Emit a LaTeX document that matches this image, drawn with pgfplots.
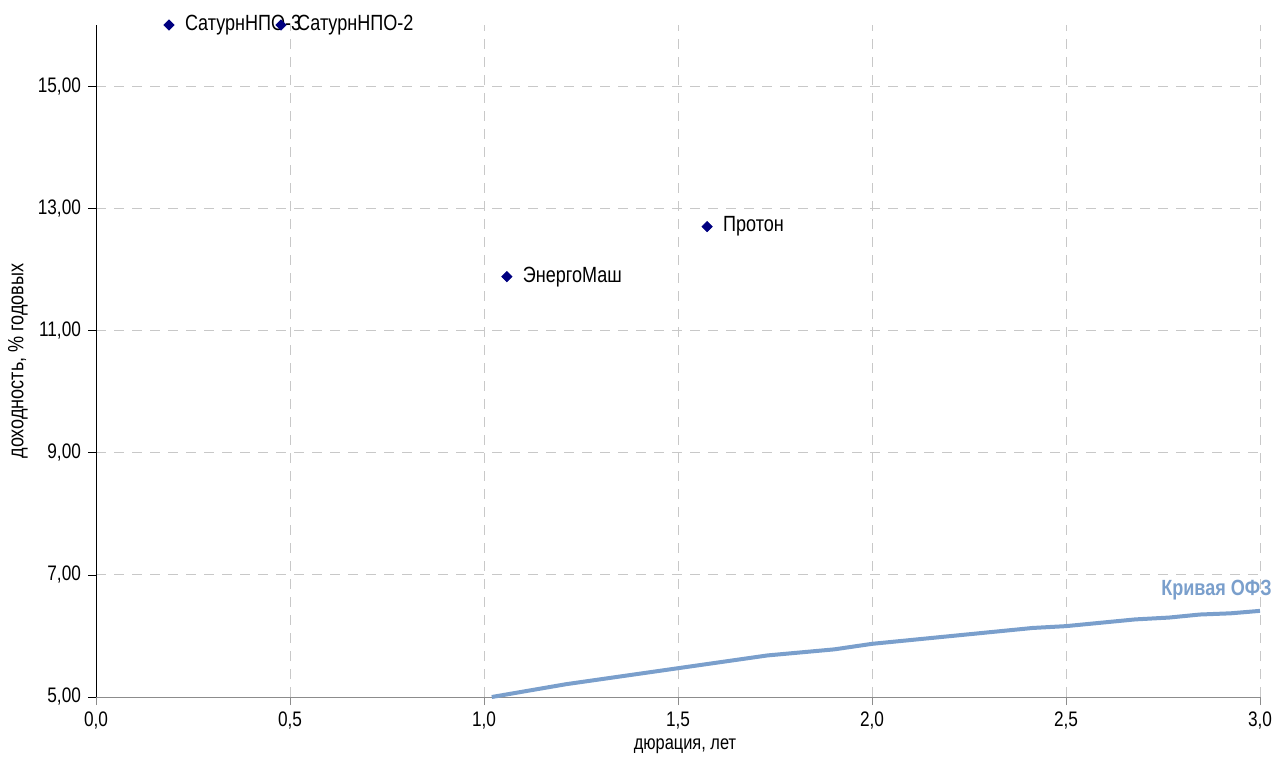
\documentclass[border=0pt]{standalone}
\usepackage{fontspec}
\setmainfont[FakeStretch=0.82]{Liberation Sans}
\usepackage{pgfplots}
\pgfplotsset{compat=1.18}
\usetikzlibrary{calc}

\definecolor{ofz}{HTML}{7A9FCC}
\definecolor{mk}{HTML}{000080}
\definecolor{gridc}{HTML}{C8C8C8}

\pgfplotstableread{
x y label
0.188 16.0 СатурнНПО-3
0.477 16.0 СатурнНПО-2
1.059 11.88 ЭнергоМаш
1.575 12.70 Протон
}\bonds

\pgfplotstableread{
x y
1.02 5.00
1.212 5.21
1.73 5.68
1.903 5.78
2.0 5.87
2.414 6.13
2.5 6.16
2.678 6.27
2.765 6.30
2.845 6.35
2.925 6.37
3.0 6.41
}\ofzcurve

\begin{document}
\begin{tikzpicture}
\begin{axis}[
  scale only axis, width=582pt, height=336pt,
  xmin=0, xmax=3, ymin=5, ymax=16,
  axis x line*=bottom, axis y line*=left,
  x axis line style={draw=gray!90},
  y axis line style={draw=black},
  xtick={0,0.5,...,3}, ytick={5,7,...,15},
  tick align=outside, major tick length=4pt,
  xtick style={gray!90}, ytick style={black},
  grid=major, major grid style={gridc, dash pattern=on 5pt off 4pt},
  /pgf/number format/assume math mode=true,
  x tick label style={/pgf/number format/.cd, fixed, fixed zerofill, precision=1, use comma},
  y tick label style={/pgf/number format/.cd, fixed, fixed zerofill, precision=2, use comma},
  tick label style={font=\fontsize{10.5}{12}\selectfont},
  xlabel={дюрация, лет}, ylabel={доходность, \% годовых},
  every axis x label/.style={at={(axis description cs:0.506,-0.073)}, anchor=center, font=\fontsize{10}{12}\selectfont},
  every axis y label/.style={at={(axis description cs:-0.067,0.5)}, rotate=90, anchor=center, font=\fontsize{11}{13}\selectfont},
  clip=false,
]
\addplot[ofz, line width=2pt, no marks] table[x=x, y=y] {\ofzcurve};
\addplot[only marks, mark=square*, mark size=1.8pt, mark options={rotate=45}, color=mk,
  nodes near coords, point meta=explicit symbolic,
  every node near coord/.style={anchor=west, xshift=4.5pt, black, font=\fontsize{11}{13}\selectfont}]
  table[x=x, y=y, meta=label] {\bonds};
\node[anchor=east, inner sep=0pt, xshift=6pt, text=ofz, font=\bfseries\fontsize{11}{13}\selectfont] at (axis cs:3,6.75) {Кривая ОФЗ};
\end{axis}
\pgfresetboundingbox
\path[use as bounding box] ($(current axis.south west)+(-48pt,-30.5pt)$) rectangle ($(current axis.north east)+(8pt,12.5pt)$);
\end{tikzpicture}
\end{document}
